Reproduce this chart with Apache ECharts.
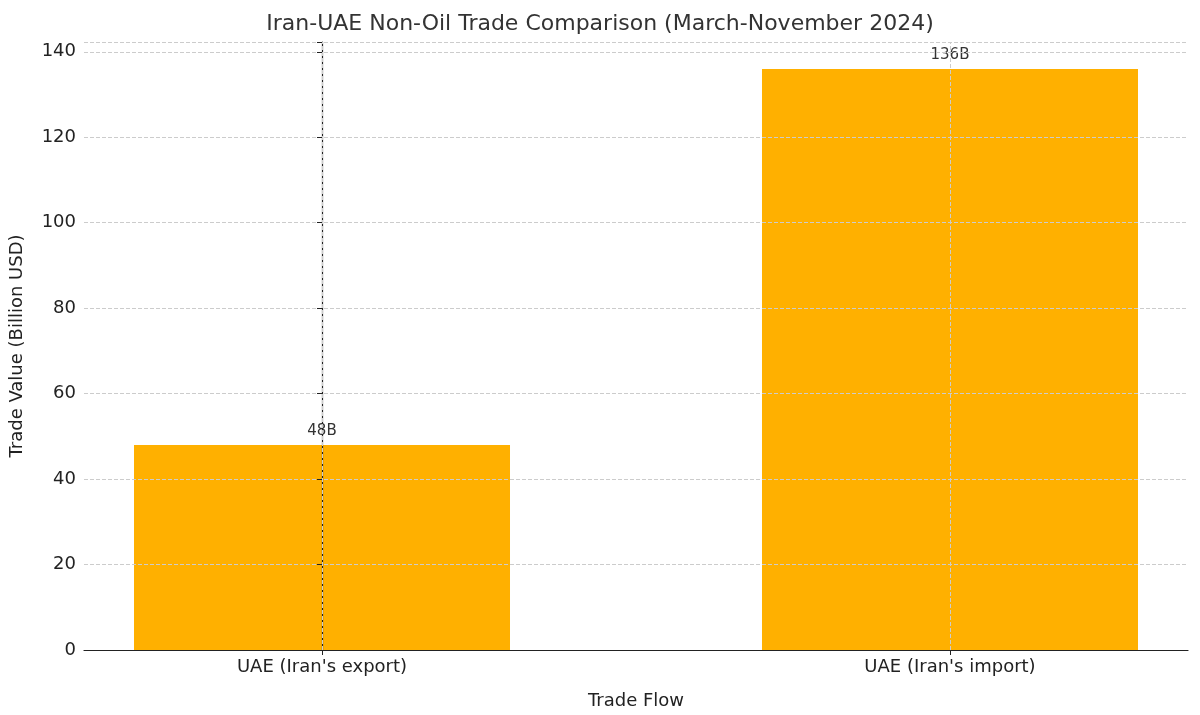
<!DOCTYPE html>
<html lang="en">
<head>
<meta charset="UTF-8">
<title>Iran-UAE Non-Oil Trade</title>
<style>
  html, body { margin: 0; padding: 0; background: #fff; }
  #chart { width: 1200px; height: 715px; }
</style>
</head>
<body>
<div id="chart"></div>
<script src="https://cdn.jsdelivr.net/npm/echarts@6/dist/echarts.min.js"></script>
<script>
var categories = ["UAE (Iran's export)", "UAE (Iran's import)"];
var values = [48, 136];
var valueLabels = ['48B', '136B'];

var chart = echarts.init(document.getElementById('chart'));
var font = 'DejaVu Sans';

var option = {
  textStyle: { fontFamily: font },
  title: {
    text: 'Iran-UAE Non-Oil Trade Comparison (March-November 2024)',
    left: 'center', top: 8,
    textStyle: { fontFamily: font, fontSize: 22, fontWeight: 'normal', color: '#333' }
  },
  grid: { left: 84, right: 12, top: 42, bottom: 65, containLabel: false },
  xAxis: {
    type: 'value', min: -0.379, max: 1.379, z: 3,
    name: 'Trade Flow', nameLocation: 'middle', nameGap: 42,
    nameTextStyle: { fontSize: 18, color: '#222' },
    axisLine: { show: true, onZero: false, lineStyle: { color: '#222', width: 1.2 } },
    axisTick: { show: true, customValues: [0, 1], length: 5, lineStyle: { color: '#222' } },
    axisLabel: {
      customValues: [0, 1], fontSize: 18, color: '#222', margin: 8,
      formatter: function (v) { return categories[Math.round(v)]; }
    },
    splitLine: { show: false }
  },
  yAxis: {
    type: 'value', min: 0, max: 142.3, interval: 20, z: 3,
    name: 'Trade Value (Billion USD)', nameLocation: 'middle', nameGap: 58,
    nameTextStyle: { fontSize: 18, color: '#222' },
    axisLine: { show: true, lineStyle: { color: '#222', width: 1.2 } },
    axisTick: { show: true, length: 5, lineStyle: { color: '#222' } },
    axisLabel: {
      fontSize: 18, color: '#222', margin: 8,
      formatter: function (v) { return v % 20 === 0 ? v : ''; }
    },
    splitLine: { show: true, lineStyle: { color: '#cccccc', type: 'dashed', width: 1 } }
  },
  series: [{
    type: 'bar',
    barWidth: 376,
    data: values.map(function (v, i) { return [i, v]; }),
    itemStyle: { color: '#FFB000' },
    label: {
      show: true, position: 'top', fontSize: 15, color: '#333', distance: 6,
      formatter: function (p) { return valueLabels[p.dataIndex]; }
    },
    markLine: {
      silent: true, symbol: 'none', label: { show: false },
      lineStyle: { color: '#cccccc', type: 'dashed', width: 1 },
      data: [{ xAxis: 0 }, { xAxis: 1 }]
    }
  }]
};
chart.setOption(option);
</script>
</body>
</html>
